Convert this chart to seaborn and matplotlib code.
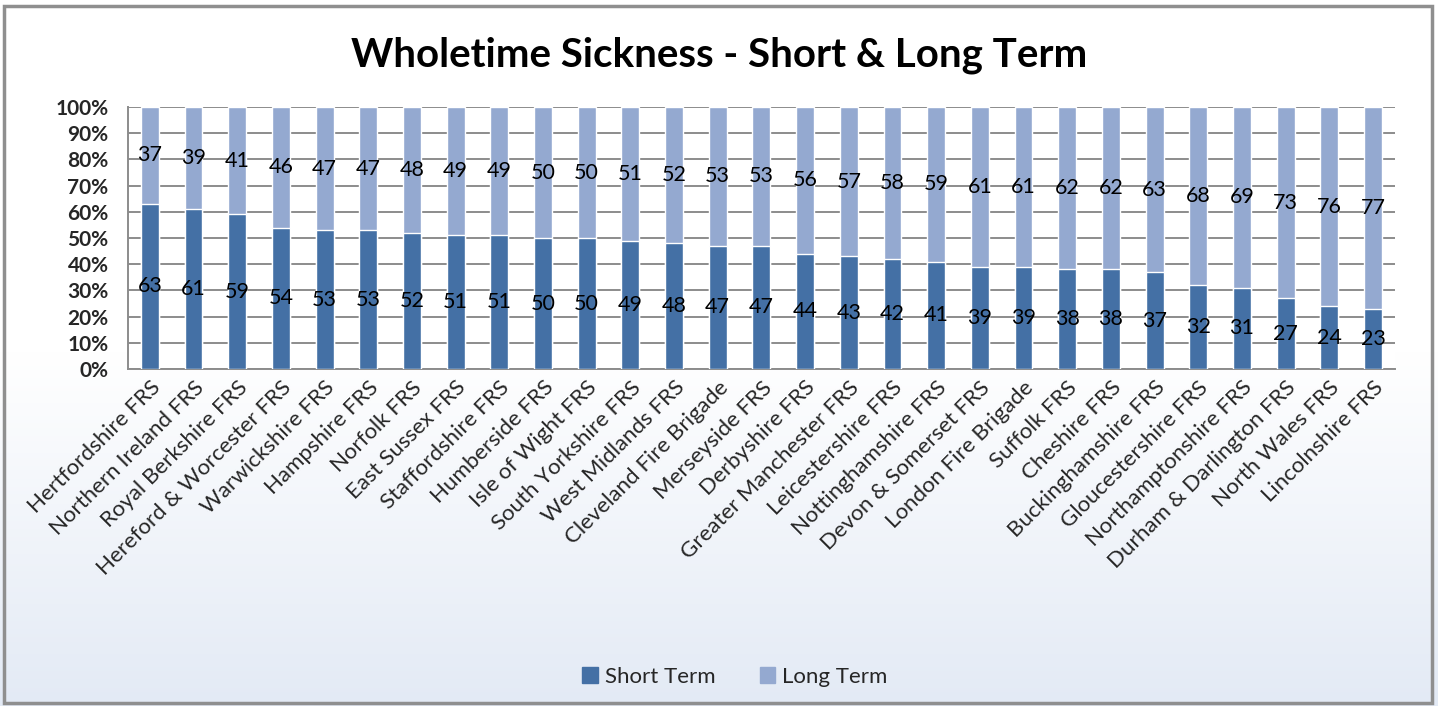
import numpy as np
import pandas as pd
import matplotlib
matplotlib.use("Agg")
import matplotlib.pyplot as plt
import seaborn as sns
from matplotlib.colors import LinearSegmentedColormap
from matplotlib.patches import Patch, Rectangle

# Data (% of wholetime sickness)
services = [
    "Hertfordshire FRS", "Northern Ireland FRS", "Royal Berkshire FRS",
    "Hereford & Worcester FRS", "Warwickshire FRS", "Hampshire FRS",
    "Norfolk FRS", "East Sussex FRS", "Staffordshire FRS", "Humberside FRS",
    "Isle of Wight FRS", "South Yorkshire FRS", "West Midlands FRS",
    "Cleveland Fire Brigade", "Merseyside FRS", "Derbyshire FRS",
    "Greater Manchester FRS", "Leicestershire FRS", "Nottinghamshire FRS",
    "Devon & Somerset FRS", "London Fire Brigade", "Suffolk FRS",
    "Cheshire FRS", "Buckinghamshire FRS", "Gloucestershire FRS",
    "Northamptonshire FRS", "Durham & Darlington FRS", "North Wales FRS",
    "Lincolnshire FRS",
]
short_term = [63, 61, 59, 54, 53, 53, 52, 51, 51, 50, 50, 49, 48, 47, 47,
              44, 43, 42, 41, 39, 39, 38, 38, 37, 32, 31, 27, 24, 23]
long_term = [37, 39, 41, 46, 47, 47, 48, 49, 49, 50, 50, 51, 52, 53, 53,
             56, 57, 58, 59, 61, 61, 62, 62, 63, 68, 69, 73, 76, 77]

SHORT_C = "#4470A5"
LONG_C = "#94A9D0"
GRID_C = "#8C8C8C"

df = pd.DataFrame({"Service": services, "Short Term": short_term, "Long Term": long_term})
df["Total"] = df["Short Term"] + df["Long Term"]

sns.set_style("white")
plt.rcParams["font.family"] = ["Lato", "DejaVu Sans"]

fig = plt.figure(figsize=(14.38, 7.06), dpi=100)

# Gradient background (white at top -> pale blue at bottom)
bg = fig.add_axes([0, 0, 1, 1], zorder=-5)
grad = np.linspace(0, 1, 256).reshape(-1, 1)
cmap_bg = LinearSegmentedColormap.from_list("bg", ["#FFFFFF", "#FFFFFF", "#E3EAF5"])
bg.imshow(grad, aspect="auto", cmap=cmap_bg, extent=[0, 1, 0, 1], origin="upper")
bg.axis("off")
fig.patches.append(Rectangle((0.003, 0.004), 0.993, 0.988, transform=fig.transFigure,
                             fill=False, edgecolor="#8F8F8F", lw=2.5))

ax = fig.add_axes([0.089, 0.4773, 0.881, 0.3711])
ax.set_facecolor("white")

# Stacked bars: total (long on top) then short drawn over it
sns.barplot(data=df, x="Service", y="Total", color=LONG_C, saturation=1,
            width=0.41, ax=ax, zorder=2)
sns.barplot(data=df, x="Service", y="Short Term", color=SHORT_C, saturation=1,
            width=0.41, ax=ax, zorder=3)

# Value labels at middle of each segment
for i, row in df.iterrows():
    ax.text(i, row["Short Term"] / 2, f"{row['Short Term']}", ha="center", va="center",
            fontsize=15.5, color="black", zorder=5)
    ax.text(i, row["Short Term"] + row["Long Term"] / 2, f"{row['Long Term']}",
            ha="center", va="center", fontsize=15.5, color="black", zorder=5)

ax.set_xlim(-0.5, len(services) - 0.5)
ax.set_ylim(0, 100)
ax.set_yticks(range(0, 101, 10))
ax.set_yticklabels([f"{v}%" for v in range(0, 101, 10)], fontsize=15, fontweight="bold")
ax.yaxis.grid(True, color=GRID_C, lw=1.4, zorder=0)
ax.set_axisbelow(True)

ax.set_xticks(range(len(services)))
ax.set_xticklabels(services, rotation=45, ha="right", rotation_mode="anchor", fontsize=16)
ax.set_xticks(np.arange(-0.5, len(services), 1), minor=True)
ax.tick_params(axis="x", which="major", length=0, pad=6)
ax.tick_params(axis="x", which="minor", length=6, width=1.4, color=GRID_C, direction="out")
ax.tick_params(axis="y", length=5, width=1.4, color=GRID_C, direction="out", pad=9)

for side in ["top", "right"]:
    ax.spines[side].set_visible(False)
for side in ["left", "bottom"]:
    ax.spines[side].set_color(GRID_C)
    ax.spines[side].set_linewidth(1.4)
ax.set_xlabel("")
ax.set_ylabel("")

fig.suptitle("Wholetime Sickness - Short & Long Term", fontsize=29, fontweight="bold",
             color="black", x=0.5, y=0.922, va="center")

handles = [Patch(color=SHORT_C, label="Short Term"), Patch(color=LONG_C, label="Long Term")]
fig.legend(handles=handles, loc="center", bbox_to_anchor=(0.511, 0.041), ncol=2,
           frameon=False, fontsize=16, handlelength=0.7, handleheight=0.7,
           handletextpad=0.3, columnspacing=2.0)

plt.savefig("out.png", dpi=100)
